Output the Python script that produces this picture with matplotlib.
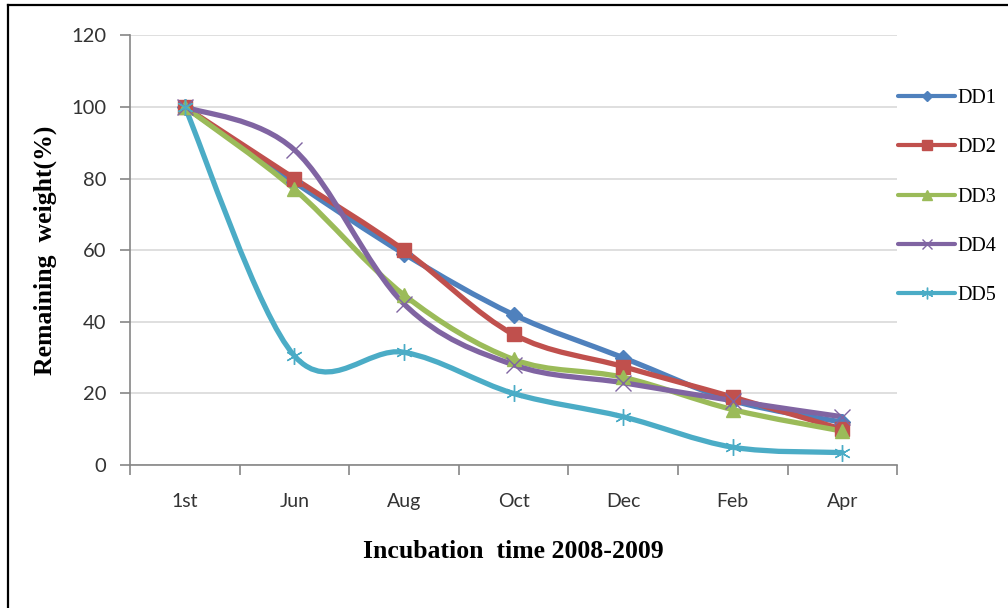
import numpy as np
import matplotlib.pyplot as plt
from matplotlib.path import Path
from matplotlib.patches import PathPatch
from matplotlib.lines import Line2D

months = ["1st", "Jun", "Aug", "Oct", "Dec", "Feb", "Apr"]
dd1 = [100, 79, 59, 42, 30, 18, 12]
dd2 = [100, 80, 60, 36.5, 27.5, 19, 10]
dd3 = [100, 77, 47.5, 29.5, 24.5, 15.5, 9.5]
dd4 = [100, 88, 45, 28, 23, 18, 13.5]
dd5 = [100, 30.5, 31.5, 20, 13.5, 5, 3.5]

series = [
    ("DD1", dd1, "#4F81BD", "D", 8),
    ("DD2", dd2, "#C0504D", "s", 10),
    ("DD3", dd3, "#9BBB59", "^", 10),
    ("DD4", dd4, "#8064A2", "x", 11),
    ("DD5", dd5, "#4BACC6", (6, 2, 0), 12),
]


def smooth_path(x, y):
    # excel-like smoothed line: catmull-rom segments as cubic beziers
    p = np.column_stack([x, y]).astype(float)
    ext = np.vstack([p[0], p, p[-1]])
    verts = [p[0]]
    codes = [Path.MOVETO]
    for i in range(len(p) - 1):
        p0, p1, p2, p3 = ext[i], ext[i + 1], ext[i + 2], ext[i + 3]
        verts += [p1 + (p2 - p0) / 6, p2 - (p3 - p1) / 6, p2]
        codes += [Path.CURVE4] * 3
    return Path(verts, codes)


plt.rcParams['font.family'] = ['Lato', 'DejaVu Sans']

fig = plt.figure(figsize=(10.08, 6.08), dpi=100)
ax = fig.add_axes([0.129, 0.235, 0.761, 0.707])

x = np.arange(len(months))
handles = []
for name, vals, col, mk, ms in series:
    ax.add_patch(PathPatch(smooth_path(x, vals), fill=False, edgecolor=col,
                           lw=3.8, capstyle='round', joinstyle='round', zorder=3))
    ax.plot(x, vals, linestyle='none', marker=mk, ms=ms, color=col,
            markeredgecolor=col, markeredgewidth=1.0, zorder=4)
    handles.append(Line2D([], [], color=col, lw=3, marker=mk, ms=ms * 0.7,
                          markeredgewidth=1.0, solid_capstyle='round'))

ax.set_xlim(-0.5, 6.5)
ax.set_ylim(0, 120)
ax.set_yticks(range(0, 121, 20))
ax.set_xticks(x)
ax.set_xticklabels(months)
ax.set_xticks(np.arange(-0.5, 7, 1), minor=True)
ax.tick_params(axis='x', which='major', length=0, pad=20, labelsize=14, labelcolor='#333333')
ax.tick_params(axis='x', which='minor', length=7, width=1.2, color='#868686', direction='out')
ax.tick_params(axis='y', length=7, width=1.2, color='#868686', pad=10, labelsize=14.5,
               labelcolor='#333333')
ax.grid(axis='y', color='#D9D9D9', lw=1.2)
ax.set_axisbelow(True)
for s in ['top', 'right']:
    ax.spines[s].set_visible(False)
for s in ['left', 'bottom']:
    ax.spines[s].set_color('#868686')
    ax.spines[s].set_linewidth(1.2)

ax.set_ylabel("Remaining  weight(%)", family='Liberation Serif', fontweight='bold',
              fontsize=18.5)
ax.set_xlabel("Incubation  time 2008-2009", family='Liberation Serif', fontweight='bold',
              fontsize=18.5, labelpad=22)
ax.yaxis.set_label_coords(-0.095, 0.5)

leg = fig.legend(handles, [s[0] for s in series], loc='upper left',
                 bbox_to_anchor=(898 / 1008, 1 - 89 / 608), frameon=False,
                 borderpad=0, borderaxespad=0, handlelength=2.85,
                 handletextpad=0.1, labelspacing=1.5,
                 prop={'family': 'Liberation Serif', 'size': 14.5})

# outer frame (left and top edges visible in the crop)
fig.add_artist(Line2D([0.0075, 0.0075], [0, 0.992], color='black', lw=1.6))
fig.add_artist(Line2D([0.0075, 1.0], [0.992, 0.992], color='black', lw=1.6))

fig.savefig("out.png", dpi=100)
